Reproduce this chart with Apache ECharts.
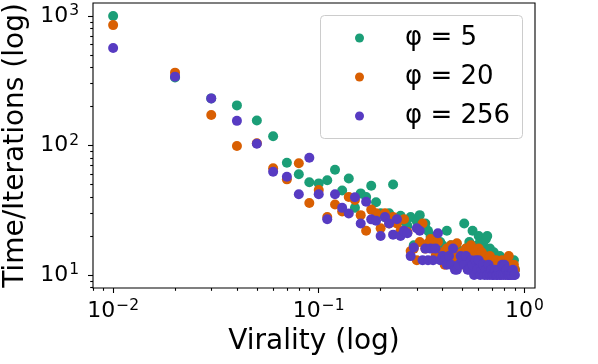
<!DOCTYPE html>
<html><head><meta charset="utf-8">
<script src="https://cdn.jsdelivr.net/npm/echarts@6/dist/echarts.min.js"></script>
<style>html,body{margin:0;padding:0;background:#fff}#c{width:598px;height:364px}</style>
</head><body><div id="c"></div>
<script>
// ---- data ----
const VIRALITY = [0.01,0.02,0.03,0.04,0.05,0.06,0.07,0.08,0.09,0.10,
  0.11,0.12,0.13,0.14,0.15,0.16,0.17,0.18,0.19,0.20,
  0.21,0.22,0.23,0.24,0.25,0.26,0.27,0.28,0.29,0.30,
  0.31,0.32,0.33,0.34,0.35,0.36,0.37,0.38,0.39,0.40,
  0.41,0.42,0.43,0.44,0.45,0.46,0.47,0.48,0.49,0.50,
  0.51,0.52,0.53,0.54,0.55,0.56,0.57,0.58,0.59,0.60,
  0.61,0.62,0.63,0.64,0.65,0.66,0.67,0.68,0.69,0.70,
  0.71,0.72,0.73,0.74,0.75,0.76,0.77,0.78,0.79,0.80,
  0.81,0.82,0.83,0.84,0.85,0.86,0.87,0.88,0.89,0.90];
const TIME_PHI5 = [1000,335,231,204,156,118,73.6,60,52,51,
  54,65,45,55.7,33,42.7,40,48.9,36.5,30,
  28,30,50,27,28.7,26,24,28,17,26,
  29,24,25,22,20,18,19.7,16,18,17,
  16,22,15,17,15,12.3,16,14,15,13,
  25,16,14,18,15,22,16,14,17,20,
  18,17,17.6,15,19,20,14,16,13,13,
  15,14,12,13,12,14,12,13,12,13,
  11,12,13,11,12,13,11,12,13,11];
const TIME_PHI20 = [850,365,172,99,104,66.7,54.8,73,36,45.3,
  28,35,31,40,38,29,22,32,30,23,
  30,25,28,25,22,27,21.5,15.3,16,13,
  18,25,16,17.6,19,16,14,18,15,13,
  12,16,14,17,13,15,17.6,14,12,15,
  13,16,14,16,17,13,15,11,14,16,
  13,15,12,14,13,11,12,14,12,13,
  11,12,13,11,12.3,12,11,13,12,11,
  12,11,12,14,11,12,10.5,11,12,11];
const TIME_PHI256 = [565,340,231,155,103,62.7,57.4,42,80.5,42,
  27,42,33,29.9,39.8,25,36.8,26.9,26.3,20,
  28,25,20.5,27,20,22,21,14,16.3,23,
  22,13,16,13,16,13,16,21,13,14,
  13,12,14,12,16,11,11,12,14,13,
  12,14,11,11,13,12,10,13,11,13,
  10,11,12,10,11,10,12,10,11,10,
  10,11,10,10,11,10,10,12,10,12,
  10,11,10,10,10,10,10,11,10,10];
const SERIES_NAMES = ['φ = 5', 'φ = 20', 'φ = 256'];
const X_TICK_EXPONENTS = [-2, -1, 0];
const Y_TICK_EXPONENTS = [1, 2, 3];
const X_TITLE = 'Virality (log)';
const Y_TITLE = 'Time/Iterations (log)';

// ---- layout / style ----
const COLORS = ['#1b9e77', '#d95f02', '#573bc2'];
const FONT = 'DejaVu Sans';
const X_MIN = 0.00798, X_MAX = 1.127, Y_MIN = 7.943, Y_MAX = 1259;
const LX_MIN = Math.log10(X_MIN), LX_MAX = Math.log10(X_MAX);
const LY_MIN = Math.log10(Y_MIN), LY_MAX = Math.log10(Y_MAX);

function minorLogs(lo, hi) {
  const out = [];
  for (let n = Math.floor(lo) - 1; n <= Math.ceil(hi); n++) {
    for (let k = 2; k <= 9; k++) {
      const v = n + Math.log10(k);
      if (v >= lo && v <= hi) out.push(v);
    }
  }
  return out;
}
const rich = {
  b: {fontSize: 22, lineHeight: 26, fontFamily: FONT, color: '#000'},
  e: {fontSize: 15.5, lineHeight: 15.5, fontFamily: FONT, color: '#000', verticalAlign: 'top', padding: [0, 0, 0, 1]}
};
function powFmt(v) {
  const e = Math.round(v);
  return '{b|10}{e|' + (e < 0 ? '\u2212' + (-e) : String(e)) + '}';
}
const hidden = {axisLine: {show: false}, axisTick: {show: false}, axisLabel: {show: false}, splitLine: {show: false}};
const tickStyle = {color: '#000', width: 1.1};

const chart = echarts.init(document.getElementById('c'), null, {renderer: 'canvas'});
chart.setOption({
  animation: false,
  backgroundColor: '#fff',
  grid: {left: 93, right: 63, top: 3, bottom: 76, show: true, borderColor: '#000', borderWidth: 1.1,
         backgroundColor: 'transparent', containLabel: false, outerBoundsMode: 'none'},
  xAxis: [
    Object.assign({type: 'log', min: X_MIN, max: X_MAX, position: 'bottom'}, hidden),
    {type: 'value', min: LX_MIN, max: LX_MAX, position: 'bottom', splitLine: {show: false},
     axisLine: {show: false, onZero: false},
     axisTick: {show: true, length: 5, lineStyle: tickStyle, customValues: X_TICK_EXPONENTS},
     axisLabel: {show: true, margin: 10, customValues: X_TICK_EXPONENTS, formatter: powFmt, rich: rich},
     name: X_TITLE, nameLocation: 'middle', nameGap: 40,
     nameTextStyle: {fontSize: 28, fontFamily: FONT, color: '#000'}},
    {type: 'value', min: LX_MIN, max: LX_MAX, position: 'bottom', splitLine: {show: false},
     axisLine: {show: false, onZero: false},
     axisTick: {show: true, length: 2.8, lineStyle: tickStyle, customValues: minorLogs(LX_MIN, LX_MAX)},
     axisLabel: {show: false}}
  ],
  yAxis: [
    Object.assign({type: 'log', min: Y_MIN, max: Y_MAX, position: 'left'}, hidden),
    {type: 'value', min: LY_MIN, max: LY_MAX, position: 'left', splitLine: {show: false},
     axisLine: {show: false, onZero: false},
     axisTick: {show: true, length: 5, lineStyle: tickStyle, customValues: Y_TICK_EXPONENTS},
     axisLabel: {show: true, margin: 14, customValues: Y_TICK_EXPONENTS, formatter: powFmt, rich: rich},
     name: Y_TITLE, nameLocation: 'middle', nameGap: 58,
     nameTextStyle: {fontSize: 28, fontFamily: FONT, color: '#000'}},
    {type: 'value', min: LY_MIN, max: LY_MAX, position: 'left', splitLine: {show: false},
     axisLine: {show: false, onZero: false},
     axisTick: {show: true, length: 2.8, lineStyle: tickStyle, customValues: minorLogs(LY_MIN, LY_MAX)},
     axisLabel: {show: false}}
  ],
  legend: {
    data: SERIES_NAMES, orient: 'vertical', left: 350, top: 18,
    itemWidth: 81, itemHeight: 9, itemGap: 9, icon: 'circle', selectedMode: false,
    textStyle: {fontSize: 26, fontFamily: FONT, color: '#000', lineHeight: 30}
  },
  graphic: [{
    type: 'rect', left: 320, top: 15, z: 3,
    shape: {width: 202, height: 123, r: 4},
    style: {fill: 'rgba(255,255,255,0.8)', stroke: '#cccccc', lineWidth: 1}
  }],
  series: [TIME_PHI5, TIME_PHI20, TIME_PHI256].map((ys, i) => ({
    type: 'scatter', name: SERIES_NAMES[i], xAxisIndex: 0, yAxisIndex: 0,
    symbol: 'circle', symbolSize: 10, itemStyle: {color: COLORS[i], opacity: 1},
    data: VIRALITY.map((x, j) => [x, ys[j]])
  }))
});
</script></body></html>
